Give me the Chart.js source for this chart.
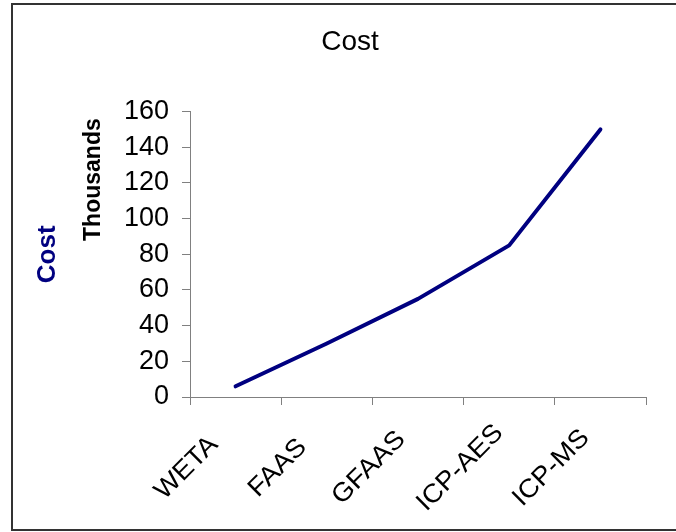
<!DOCTYPE html>
<html><head><meta charset="utf-8">
<script src="https://cdn.jsdelivr.net/npm/chart.js@4.4.1/dist/chart.umd.min.js"></script>
<style>
html,body{margin:0;padding:0;background:#fff;overflow:hidden;}
#wrap{position:relative;width:676px;height:532px;}
#frame{position:absolute;left:11px;top:3px;width:700px;height:528px;border:2px solid #333;box-sizing:border-box;pointer-events:none;}
canvas{position:absolute;left:0;top:0;}
</style></head><body>
<div id="wrap"><canvas id="c" width="676" height="532"></canvas><div id="frame"></div></div>
<script>
// ---- data ----
const categories = ['WETA', 'FAAS', 'GFAAS', 'ICP-AES', 'ICP-MS'];
const costThousands = [6, 30, 55, 85, 150];
const yTicks = [0, 20, 40, 60, 80, 100, 120, 140, 160];
const chartTitle = 'Cost';
const yTitle = 'Cost';
const yUnitTitle = 'Thousands';

const FAMILY = '"Liberation Sans", Arial, Helvetica, sans-serif';

const extraText = {
  id: 'extraText',
  afterDraw(chart) {
    const ctx = chart.ctx;
    const xs = chart.scales.x;
    const ys = chart.scales.y;
    ctx.save();
    ctx.textAlign = 'center';
    ctx.textBaseline = 'middle';
    // rotated category labels
    ctx.fillStyle = '#000';
    ctx.font = '26px ' + FAMILY;
    categories.forEach((c, i) => {
      const px = xs.getPixelForTick(i) - 49;
      const py = xs.top + 71;
      ctx.save();
      ctx.translate(px, py);
      ctx.rotate(-Math.PI / 4);
      ctx.scale(1.06, 1);
      ctx.fillText(c, 0, 0);
      ctx.restore();
    });
    // "Thousands" unit label
    ctx.font = 'bold 23px ' + FAMILY;
    ctx.save();
    ctx.translate(93.5, ys.top + 68);
    ctx.rotate(-Math.PI / 2);
    ctx.fillText(yUnitTitle, 0, 0);
    ctx.restore();
    // axis title
    ctx.fillStyle = '#000080';
    ctx.font = 'bold 26px ' + FAMILY;
    ctx.save();
    ctx.translate(48, (ys.top + ys.bottom) / 2);
    ctx.rotate(-Math.PI / 2);
    ctx.fillText(yTitle, 0, 0);
    ctx.restore();
    ctx.restore();
  }
};

new Chart(document.getElementById('c'), {
  type: 'line',
  data: {
    labels: categories,
    datasets: [{
      data: costThousands,
      borderColor: '#000080',
      backgroundColor: '#000080',
      borderWidth: 4,
      pointRadius: 0,
      pointHoverRadius: 0,
      tension: 0,
      fill: false,
      borderCapStyle: 'round',
      borderJoinStyle: 'round'
    }]
  },
  options: {
    responsive: false,
    animation: false,
    devicePixelRatio: 1,
    layout: { padding: { left: 54, right: 30, top: 0, bottom: 0 } },
    plugins: {
      legend: { display: false },
      tooltip: { enabled: false },
      title: {
        display: true,
        text: chartTitle,
        color: '#000',
        font: { family: FAMILY, size: 28, weight: 'normal' },
        padding: { top: 25, bottom: 53 }
      }
    },
    scales: {
      x: {
        offset: true,
        grid: { offset: true, drawOnChartArea: false, tickLength: 8, color: '#808080', lineWidth: 1 },
        border: { color: '#808080', width: 1 },
        ticks: { display: false },
        afterFit: (s) => { s.height = 135; }
      },
      y: {
        min: 0,
        max: 160,
        afterBuildTicks: (s) => { s.ticks = yTicks.map(v => ({ value: v })); },
        ticks: { color: '#000', font: { family: FAMILY, size: 27 }, padding: 13 },
        grid: { drawOnChartArea: false, tickLength: 8, color: '#808080', lineWidth: 1 },
        border: { color: '#808080', width: 1 },
        afterFit: (s) => { s.width = 136; }
      }
    }
  },
  plugins: [extraText]
});
</script>
</body></html>
